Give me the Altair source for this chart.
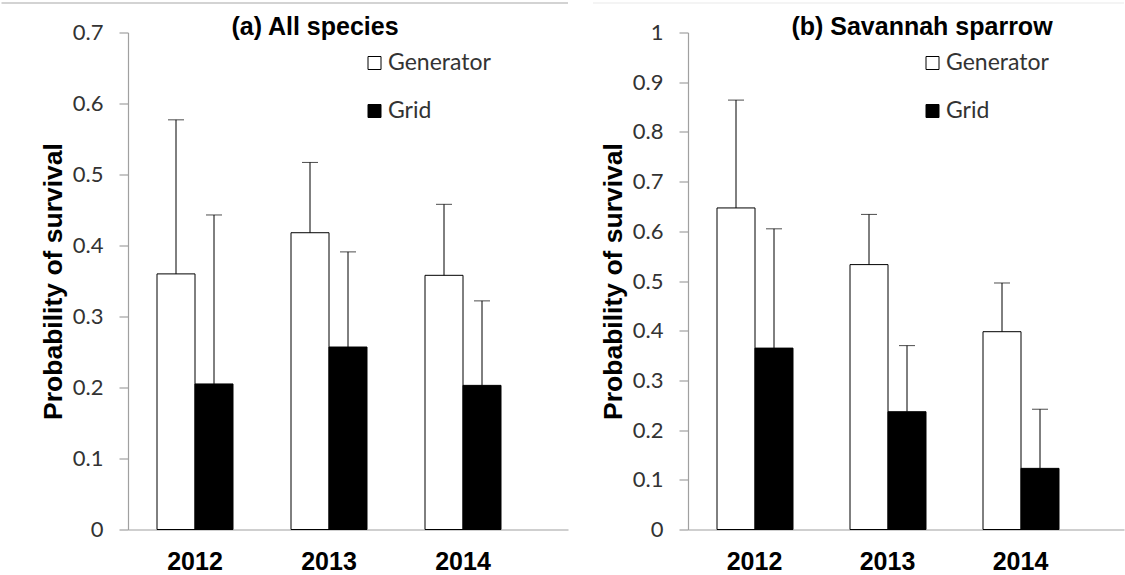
import altair as alt
import pandas as pd

# Survival estimates with upper standard-error bars
years = ["2012", "2013", "2014"]
series = ["Generator", "Grid"]

all_gen = [0.360, 0.418, 0.358]
all_gen_err = [0.217, 0.099, 0.100]
all_grid = [0.205, 0.257, 0.203]
all_grid_err = [0.238, 0.134, 0.119]

sav_gen = [0.647, 0.533, 0.398]
sav_gen_err = [0.217, 0.101, 0.098]
sav_grid = [0.365, 0.237, 0.123]
sav_grid_err = [0.240, 0.133, 0.119]

left_ticks = [0, 0.1, 0.2, 0.3, 0.4, 0.5, 0.6, 0.7]
right_ticks = [0, 0.1, 0.2, 0.3, 0.4, 0.5, 0.6, 0.7, 0.8, 0.9, 1.0]

BOLD = "Liberation Sans"
LIGHT = "Lato"
PLOT_H = 497
BAR_W = 38


def frame(gen, gen_err, grid, grid_err):
    rows = []
    for i, yr in enumerate(years):
        rows.append({"year": yr, "series": "Generator", "value": gen[i],
                     "upper": round(gen[i] + gen_err[i], 3)})
        rows.append({"year": yr, "series": "Grid", "value": grid[i],
                     "upper": round(grid[i] + grid_err[i], 3)})
    return pd.DataFrame(rows)


def panel(df, ymax, ticks, title, title_x, width, step, legend_x, line_from, line_color):
    outer = (width / step - len(years)) / 2
    inner_outer = (step / BAR_W - len(series)) / 2
    ytitle = "Probability of survival"

    x = alt.X("year:N", title=None,
              scale=alt.Scale(paddingInner=0, paddingOuter=outer, align=0),
              axis=alt.Axis(labelAngle=0, ticks=False, tickSize=0, domain=True,
                            domainColor="#a0a0a0", domainWidth=1.2,
                            labelFont=BOLD, labelFontSize=25, labelFontWeight="bold",
                            labelColor="black", labelBaseline="alphabetic",
                            labelPadding=39.5))
    xo = alt.XOffset("series:N",
                     scale=alt.Scale(domain=series, paddingInner=0, paddingOuter=inner_outer))
    yscale = alt.Scale(domain=[0, ymax], nice=False, zero=True)
    yaxis = alt.Axis(values=ticks, format=".1~f", grid=False,
                     domainColor="#a0a0a0", domainWidth=1.2,
                     tickColor="#a0a0a0", tickWidth=1.2, tickSize=9,
                     labelFont=LIGHT, labelFontSize=22, labelColor="#333333",
                     labelPadding=16,
                     titleFont=BOLD, titleFontSize=26.5, titleFontWeight="bold",
                     titleColor="black", titleAngle=-90, titleAlign="center",
                     titleBaseline="alphabetic", titleX=-67, titleY=PLOT_H / 2)

    base = alt.Chart(df)
    bars = base.mark_bar(stroke="black", strokeWidth=1).encode(
        x=x, xOffset=xo,
        y=alt.Y("value:Q", scale=yscale, axis=yaxis, title=ytitle),
        fill=alt.Fill("series:N",
                      scale=alt.Scale(domain=series, range=["white", "black"]),
                      legend=alt.Legend(orient="none", legendX=legend_x, legendY=19,
                                        title=None, symbolType="square", symbolSize=169,
                                        symbolStrokeColor="black", symbolStrokeWidth=1,
                                        labelFont=LIGHT, labelFontSize=23,
                                        labelColor="#333333", rowPadding=24,
                                        labelOffset=2, padding=0)),
    )
    whiskers = base.mark_rule(color="black", strokeWidth=1).encode(
        x=x, xOffset=xo,
        y=alt.Y("value:Q", scale=yscale, axis=yaxis, title=ytitle),
        y2="upper:Q",
    )
    caps = base.mark_tick(color="black", size=16, thickness=1).encode(
        x=x, xOffset=xo,
        y=alt.Y("upper:Q", scale=yscale, axis=yaxis, title=ytitle),
    )
    heading = alt.Chart(pd.DataFrame({"t": [title]})).mark_text(
        font=BOLD, fontSize=25, fontWeight="bold", color="black",
        align="center", baseline="alphabetic",
    ).encode(text="t:N", x=alt.value(title_x), y=alt.value(2))
    # thin frame line along the top edge of the figure
    border = alt.Chart(pd.DataFrame({"t": [0]})).mark_rule(
        color=line_color, strokeWidth=1.5
    ).encode(x=alt.value(line_from), x2=alt.value(width),
             y=alt.value(-29.5), y2=alt.value(-29.5))

    return alt.layer(border, bars, whiskers, caps, heading).properties(
        width=width, height=PLOT_H
    )


left = panel(frame(all_gen, all_gen_err, all_grid, all_grid_err), 0.7, left_ticks,
             "(a) All species", 187, 440, 134, 235, -126.5, "#c4c4c4")
right = panel(frame(sav_gen, sav_gen_err, sav_grid, sav_grid_err), 1.0, right_ticks,
              "(b) Savannah sparrow", 234, 436, 133, 233, -95, "#f0f0f0")

chart = alt.hconcat(left, right, spacing=120, bounds="flush").resolve_legend(
    fill="independent"
).properties(
    padding={"left": 0, "top": 1.5, "right": 0, "bottom": 0},
    background="white",
).configure_view(stroke="transparent", strokeWidth=0)

chart.save("out.html", embed_options={"renderer": "svg", "actions": False})
